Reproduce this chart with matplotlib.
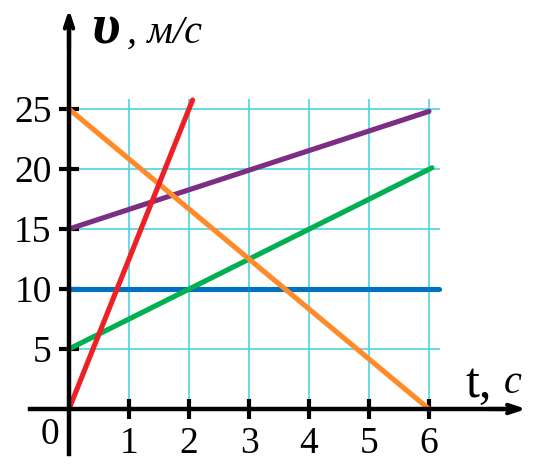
"""v(t) graph: five straight-line motions on a cyan grid."""

import matplotlib

matplotlib.use("Agg")
import matplotlib.pyplot as plt

# data
t_ticks = [1, 2, 3, 4, 5, 6]
v_ticks = [5, 10, 15, 20, 25]

lines = {
    "red": ([0, 2.06], [0, 25.75], "#ee2024"),
    "orange": ([0, 6], [25, 0], "#ff8a2a"),
    "purple": ([0, 6], [15, 24.8], "#7d2e82"),
    "green": ([0, 6.05], [5, 20.1], "#00b050"),
    "blue": ([0, 6.16], [10, 10], "#0070c0"),
}
draw_order = ["blue", "green", "purple", "orange", "red"]

GRID_COLOR = "#4dd2e6"
SERIF = ["Liberation Serif", "DejaVu Serif"]

fig = plt.figure(figsize=(5.46, 4.74), dpi=100)
ax = fig.add_axes([0, 0, 1, 1])
# 60 px per second, 12 px per m/s, origin at pixel (69, 409)
ax.set_xlim(-69 / 60, (546 - 69) / 60)
ax.set_ylim((409 - 474) / 12, 409 / 12)
ax.set_facecolor("white")

# grid
ax.vlines(t_ticks, 0, 25.83, color=GRID_COLOR, lw=1.2, zorder=1)
ax.hlines(v_ticks, 0, 6.18, color=GRID_COLOR, lw=1.2, zorder=1)

for name in draw_order:
    t, v, c = lines[name]
    ax.plot(t, v, color=c, lw=3.7, solid_capstyle="round", zorder=3)

# axes through the origin
for side in ("top", "right"):
    ax.spines[side].set_visible(False)
ax.spines["left"].set_position(("data", 0))
ax.spines["bottom"].set_position(("data", 0))
ax.spines["left"].set_bounds(-3.75, 32)
ax.spines["bottom"].set_bounds(-0.65, 7.4)
for side in ("left", "bottom"):
    ax.spines[side].set_linewidth(3.2)
    ax.spines[side].set_zorder(4)

arrow = dict(arrowstyle="->,head_length=0.9,head_width=0.3",
             lw=3.0, color="black", shrinkA=0, shrinkB=0)
ax.annotate("", xy=(0, 33.3), xytext=(0, 30), arrowprops=arrow, zorder=5)
ax.annotate("", xy=(7.62, 0), xytext=(7.0, 0), arrowprops=arrow, zorder=5)

ax.set_xticks(t_ticks)
ax.set_yticks(v_ticks)
ax.set_xticklabels([str(x) for x in t_ticks], family=SERIF, fontsize=27)
ax.set_yticklabels([str(y) for y in v_ticks], family=SERIF, fontsize=27)
ax.tick_params(direction="inout", length=15, width=3, color="black")
ax.tick_params(axis="x", pad=5)
ax.tick_params(axis="y", pad=5)

ax.text(-0.32, -0.7, "0", fontsize=27, family=SERIF, ha="center", va="top")

# axis names
ax.text(0.36, 30.5, "υ", fontsize=42, family=SERIF, fontweight="bold",
        fontstyle="italic", ha="left", va="baseline")
ax.text(0.97, 30.5, ", м/с", fontsize=29, family=SERIF,
        fontstyle="italic", ha="left", va="baseline")
ax.text(6.6, 1.0, "t,", fontsize=36, family=SERIF, ha="left", va="baseline")
ax.text(7.24, 1.35, "c", fontsize=29, family=SERIF, fontstyle="italic",
        ha="left", va="baseline")

fig.savefig("out.png", dpi=100)
